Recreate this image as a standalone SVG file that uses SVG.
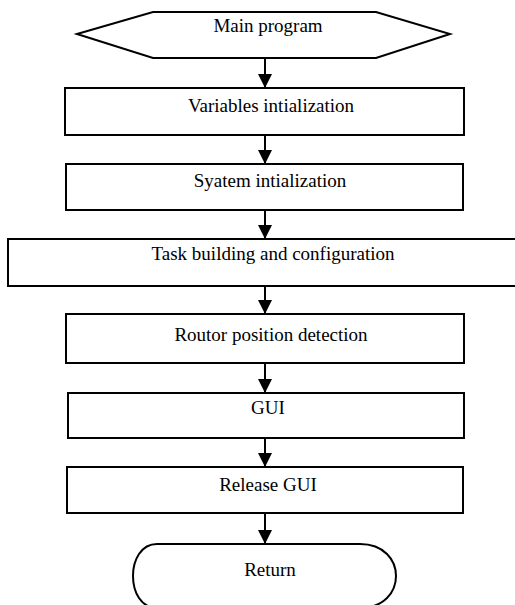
<svg xmlns="http://www.w3.org/2000/svg" width="515" height="605" viewBox="0 0 515 605">
<defs>
<style>
.box{fill:#fff;stroke:#000;stroke-width:2}
.lbl{font-size:19px;fill:#000;text-anchor:middle}
.conn line{stroke:#000;stroke-width:2}
</style>
<marker id="ah" markerWidth="14" markerHeight="14" viewBox="0 0 14 14" refX="14" refY="7" orient="auto" markerUnits="userSpaceOnUse">
<path d="M0,0 L14,7 L0,14 Z" fill="#000"/>
</marker>
</defs>
<rect width="515" height="605" fill="#fff"/>
<g class="conn" id="connectors">
<line x1="265" y1="59" x2="265" y2="88" marker-end="url(#ah)"/>
<line x1="265" y1="135" x2="265" y2="164" marker-end="url(#ah)"/>
<line x1="265" y1="210" x2="265" y2="239" marker-end="url(#ah)"/>
<line x1="265" y1="286" x2="265" y2="314" marker-end="url(#ah)"/>
<line x1="265" y1="363" x2="265" y2="393" marker-end="url(#ah)"/>
<line x1="265" y1="438" x2="265" y2="467" marker-end="url(#ah)"/>
<line x1="265" y1="513" x2="265" y2="544" marker-end="url(#ah)"/>
</g>
<g font-family="Liberation Serif, Times New Roman, serif">
<g id="main">
<polygon class="box" points="77,34 153,12 376,12 450,34 376,58 153,58"/>
<text class="lbl" x="268" y="32">Main program</text>
</g>
<g id="vars">
<rect class="box" x="65" y="88" width="399" height="47"/>
<text class="lbl" x="271" y="112">Variables intialization</text>
</g>
<g id="sys">
<rect class="box" x="66" y="164" width="397" height="46"/>
<text class="lbl" x="270" y="187">Syatem intialization</text>
</g>
<g id="task">
<rect class="box" x="8" y="239" width="515" height="47"/>
<text class="lbl" x="273" y="260">Task building and configuration</text>
</g>
<g id="rotor">
<rect class="box" x="66" y="314" width="398" height="49"/>
<text class="lbl" x="271" y="341">Routor position detection</text>
</g>
<g id="gui">
<rect class="box" x="68" y="393" width="396" height="45"/>
<text class="lbl" x="268" y="414">GUI</text>
</g>
<g id="release">
<rect class="box" x="67" y="467" width="396" height="46"/>
<text class="lbl" x="268" y="491">Release GUI</text>
</g>
<g id="return">
<path class="box" d="M157,544 H360 C384,544 396,560 396,576 C396,592 384,608 360,608 H157 C141,608 133,592 133,576 C133,560 141,544 157,544 Z"/>
<text class="lbl" x="270" y="576">Return</text>
</g>
</g>
</svg>
